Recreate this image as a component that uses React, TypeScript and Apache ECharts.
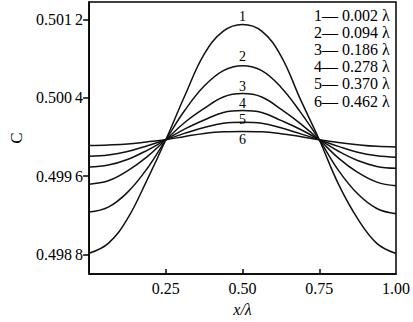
import React, { useEffect, useRef } from "react";
import * as echarts from "echarts";

const xs = [0, 0.0625, 0.125, 0.1875, 0.25, 0.3125, 0.375, 0.4375, 0.5, 0.5625, 0.625, 0.6875, 0.75, 0.8125, 0.875, 0.9375, 1];

const c1 = [0.498813, 0.498914, 0.499166, 0.499553, 0.499973, 0.500427, 0.500847, 0.501082, 0.50115, 0.501082, 0.50083, 0.500393, 0.499973, 0.499519, 0.499166, 0.498914, 0.49881];
const c2 = [0.499234, 0.499284, 0.499435, 0.499671, 0.499973, 0.500276, 0.500521, 0.500679, 0.500729, 0.500679, 0.50051, 0.50026, 0.499973, 0.49966, 0.49942, 0.49927, 0.499217];
const c3 = [0.499519, 0.499553, 0.499654, 0.499795, 0.499973, 0.500151, 0.500292, 0.50041, 0.500444, 0.50041, 0.500285, 0.50014, 0.499973, 0.499785, 0.49964, 0.49954, 0.499503];
const c4 = [0.499694, 0.499714, 0.499771, 0.499862, 0.499973, 0.500084, 0.500175, 0.500252, 0.500272, 0.500252, 0.50017, 0.50008, 0.499973, 0.499855, 0.49976, 0.4997, 0.499681];
const c5 = [0.499805, 0.499818, 0.499852, 0.499909, 0.499973, 0.50004, 0.500098, 0.500141, 0.500151, 0.500141, 0.500095, 0.500035, 0.499973, 0.499905, 0.499845, 0.49981, 0.499795];
const c6 = [0.499913, 0.499919, 0.499929, 0.49995, 0.499973, 0.500007, 0.500037, 0.500054, 0.500057, 0.500054, 0.500035, 0.500005, 0.499973, 0.499945, 0.499922, 0.499905, 0.499899];

const curves = [c1, c2, c3, c4, c5, c6];
const curveNames = ["1", "2", "3", "4", "5", "6"];
const distances = ["0.002", "0.094", "0.186", "0.278", "0.370", "0.462"];

const yTicks = [0.4988, 0.4996, 0.5004, 0.5012];
const xTicks = [0.25, 0.5, 0.75];
const xLabels = [0.25, 0.5, 0.75, 1.0];

const FONT = "'Liberation Serif', 'Times New Roman', serif";

// label placement for the curve numbers at the peak (style only)
const peakLabelStyle = [
  { position: "top", distance: 2 },
  { position: "top", distance: 2.5 },
  { position: "top", distance: 1 },
  { position: "top", distance: 0 },
  { position: "top", distance: -4 },
  { position: "bottom", distance: 2 },
];

function fmtY(v: number) {
  const s = v.toFixed(4);
  return s.slice(0, 5) + "\u2009" + s.slice(5);
}

export default function App() {
  const ref = useRef<HTMLDivElement>(null);
  useEffect(() => {
    if (!ref.current) return;
    const chart = echarts.init(ref.current, undefined, { renderer: "svg" });
    const peakIdx = xs.indexOf(0.5);
    const series = curves.map((c, si) => ({
      type: "line",
      name: curveNames[si],
      smooth: 0.4,
      symbol: "circle",
      symbolSize: 0,
      showSymbol: true,
      itemStyle: { color: "#111" },
      lineStyle: { color: "#111", width: 1.5 },
      label: { show: false },
      data: xs.map((x, i) =>
        i === peakIdx
          ? {
              value: [x, c[i]],
              label: {
                show: true,
                formatter: curveNames[si],
                position: peakLabelStyle[si].position,
                distance: peakLabelStyle[si].distance,
                color: "#000",
                fontFamily: FONT,
                fontSize: 14,
                lineHeight: 13,
              },
            }
          : [x, c[i]]
      ),
    }));
    chart.setOption({
      animation: false,
      backgroundColor: "#fff",
      grid: {
        left: 70,
        right: 13,
        top: 2,
        bottom: 44,
        containLabel: false,
        show: true,
        borderColor: "#000",
        borderWidth: 1.5,
        backgroundColor: "transparent",
      },
      xAxis: {
        type: "value",
        min: 0,
        max: 1,
        name: "x/\u03bb",
        nameLocation: "middle",
        nameGap: 26,
        nameTextStyle: { fontFamily: FONT, fontSize: 16, fontStyle: "italic", color: "#000" },
        axisLine: { show: true, lineStyle: { color: "#000", width: 1.5 } },
        axisTick: { show: true, inside: true, length: 5, customValues: xTicks, lineStyle: { color: "#000", width: 1.5 } },
        axisLabel: {
          customValues: xLabels,
          formatter: (v: number) => v.toFixed(2),
          margin: 6,
          fontFamily: FONT,
          fontSize: 16,
          color: "#000",
        },
        splitLine: { show: false },
      },
      yAxis: {
        type: "value",
        min: 0.4986,
        max: 0.50138,
        name: "C",
        nameLocation: "middle",
        nameGap: 58,
        nameRotate: 90,
        nameTextStyle: { fontFamily: FONT, fontSize: 17, color: "#000" },
        axisLine: { show: true, lineStyle: { color: "#000", width: 1.5 } },
        axisTick: { show: true, inside: false, length: 6, customValues: yTicks, lineStyle: { color: "#000", width: 1.5 } },
        axisLabel: {
          customValues: yTicks,
          formatter: (v: number) => fmtY(v),
          margin: 6,
          fontFamily: FONT,
          fontSize: 16,
          color: "#000",
        },
        splitLine: { show: false },
      },
      graphic: curveNames.map((n, i) => ({
        type: "text",
        left: 314,
        top: 7 + i * 17.2,
        style: {
          text: `${n}\u2014 ${distances[i]} \u03bb`,
          fontFamily: FONT,
          fontSize: 16,
          fill: "#000",
        },
      })),
      series,
    });
    return () => chart.dispose();
  }, []);
  return (
    <div
      ref={ref}
      style={{ position: "fixed", left: 0, top: 0, width: 413, height: 322, background: "#fff" }}
    />
  );
}
